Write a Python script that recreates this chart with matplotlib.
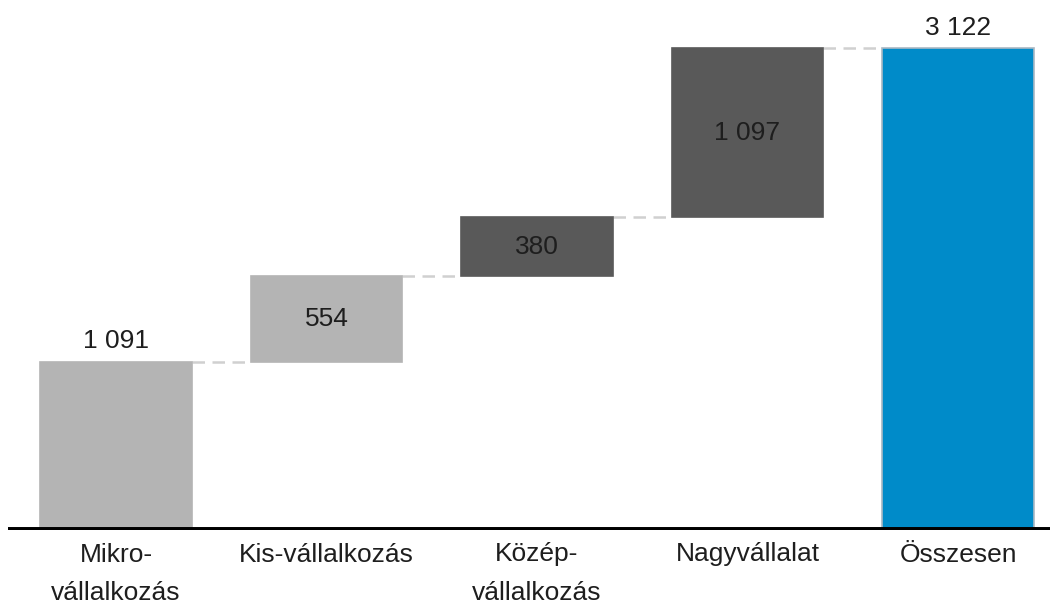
import numpy as np
import matplotlib.pyplot as plt

categories = ['Mikro-\nvállalkozás', 'Kis-vállalkozás', 'Közép-\nvállalkozás', 'Nagyvállalat', 'Összesen']
values = [1091, 554, 380, 1097]
total = sum(values)
labels = ['1 091', '554', '380', '1 097', '3 122']
colors = ['#b4b4b4', '#b4b4b4', '#595959', '#595959', '#008bc9']

plt.rcParams['font.family'] = ['Liberation Sans Narrow', 'Liberation Sans', 'DejaVu Sans']

fig = plt.figure(figsize=(10.5, 6.13), dpi=100)
ax = fig.add_axes([8 / 1050, 83 / 613, 1042 / 1050, 530 / 613])

x = np.arange(len(categories))
bottoms = np.concatenate([[0], np.cumsum(values)[:-1], [0]])
heights = values + [total]
w = 0.722

for i in range(len(x)):
    ec = '#a9b8c4' if i == 4 else colors[i]
    ax.bar(x[i], heights[i], bottom=bottoms[i], width=w, color=colors[i],
           edgecolor=ec, linewidth=1.2, zorder=2)

# connectors
tops = list(np.cumsum(values)) + [total]
for i in range(len(x) - 1):
    ax.plot([x[i] + w / 2, x[i + 1] - w / 2], [tops[i], tops[i]],
            color='#d0d0d0', lw=1.8, ls=(0, (5, 3)), zorder=1)

# value labels
fs = 19
for i in range(len(x)):
    if i in (0, 4):
        ax.text(x[i], tops[i] + 55, labels[i], ha='center', va='bottom',
                fontsize=fs, color='#1e1e1e')
    else:
        ax.text(x[i], bottoms[i] + heights[i] / 2, labels[i], ha='center', va='center',
                fontsize=fs, color='#1e1e1e')

ax.axhline(0, color='black', lw=5, zorder=3)
ax.set_xlim(-0.513, 4.437)
ax.set_ylim(0, 3433)
ax.set_xticks(x)
ax.set_xticklabels(categories, fontsize=fs, color='#1e1e1e', linespacing=1.75, va='top')
ax.tick_params(axis='x', length=0, pad=9)
ax.set_yticks([])
for s in ax.spines.values():
    s.set_visible(False)

fig.savefig('out.png', dpi=100)
